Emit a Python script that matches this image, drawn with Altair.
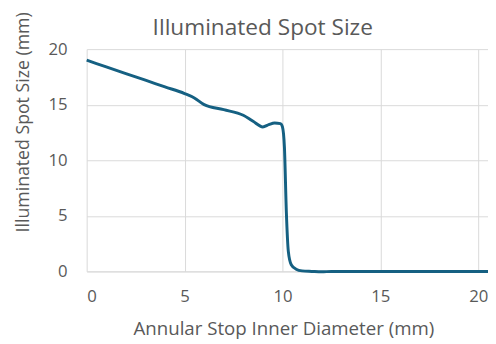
import altair as alt
import pandas as pd

diameter = [0, 1, 2, 3, 4, 5, 5.5, 6, 7, 8, 8.5, 9, 9.3, 9.6, 9.9, 10.0, 10.1, 10.2,
            10.3, 10.45, 10.7, 11, 11.5, 12, 12.5, 13, 14, 15, 16, 17, 18, 19, 20, 20.5]
spot = [19.0, 18.4, 17.8, 17.2, 16.6, 16.0, 15.6, 15.0, 14.55, 14.05, 13.5, 13.0, 13.2,
        13.35, 13.3, 13.0, 11.2, 5.3, 1.8, 0.6, 0.2, 0.05, 0.0, -0.04, 0.0, 0.0, 0.0,
        0.0, 0.0, 0.0, 0.0, 0.0, 0.0, 0.0]
ticks = [0, 5, 10, 15, 20]
title = "Illuminated Spot Size"
x_title = "Annular Stop Inner Diameter (mm)"
y_title = "Illuminated Spot Size (mm)"

df = pd.DataFrame({"d": diameter, "s": spot})
FONT = "Open Sans"
TXT = "#595959"

line = alt.Chart(df).mark_line(color="#156082", strokeWidth=3, interpolate="monotone").encode(
    x=alt.X("d:Q", scale=alt.Scale(domain=[0, 20.5], nice=False, zero=False),
            axis=alt.Axis(values=ticks, title=x_title, titleX=200, titleY=64,
                          titleFontSize=19,
                          titleBaseline="alphabetic", labelPadding=18)),
    y=alt.Y("s:Q", scale=alt.Scale(domain=[0, 20], nice=False),
            axis=alt.Axis(values=ticks, title=y_title, titleX=-59, titleY=74,
                          titleFontSize=18,
                          titleBaseline="alphabetic", labelPadding=20)),
)

ttl = alt.Chart(pd.DataFrame({"t": [title]})).mark_text(
    font=FONT, fontSize=23, color=TXT, baseline="alphabetic", align="center"
).encode(text="t:N", x=alt.value(179), y=alt.value(-14))

chart = alt.layer(line, ttl).properties(
    width=408, height=226,
    autosize=alt.AutoSizeParams(type="none"),
    padding={"left": 80, "top": 39, "right": 0, "bottom": 70},
).configure_view(stroke=None).configure_axis(
    grid=True, gridColor="#D9D9D9", gridWidth=1, ticks=False, domain=False,
    labelFont=FONT, labelFontSize=17, labelColor=TXT,
    titleFont=FONT, titleColor=TXT, titleFontWeight="normal",
).configure_axisX(domain=True, domainColor="#D9D9D9")

chart.save("out.html", embed_options={"renderer": "svg", "actions": False})
